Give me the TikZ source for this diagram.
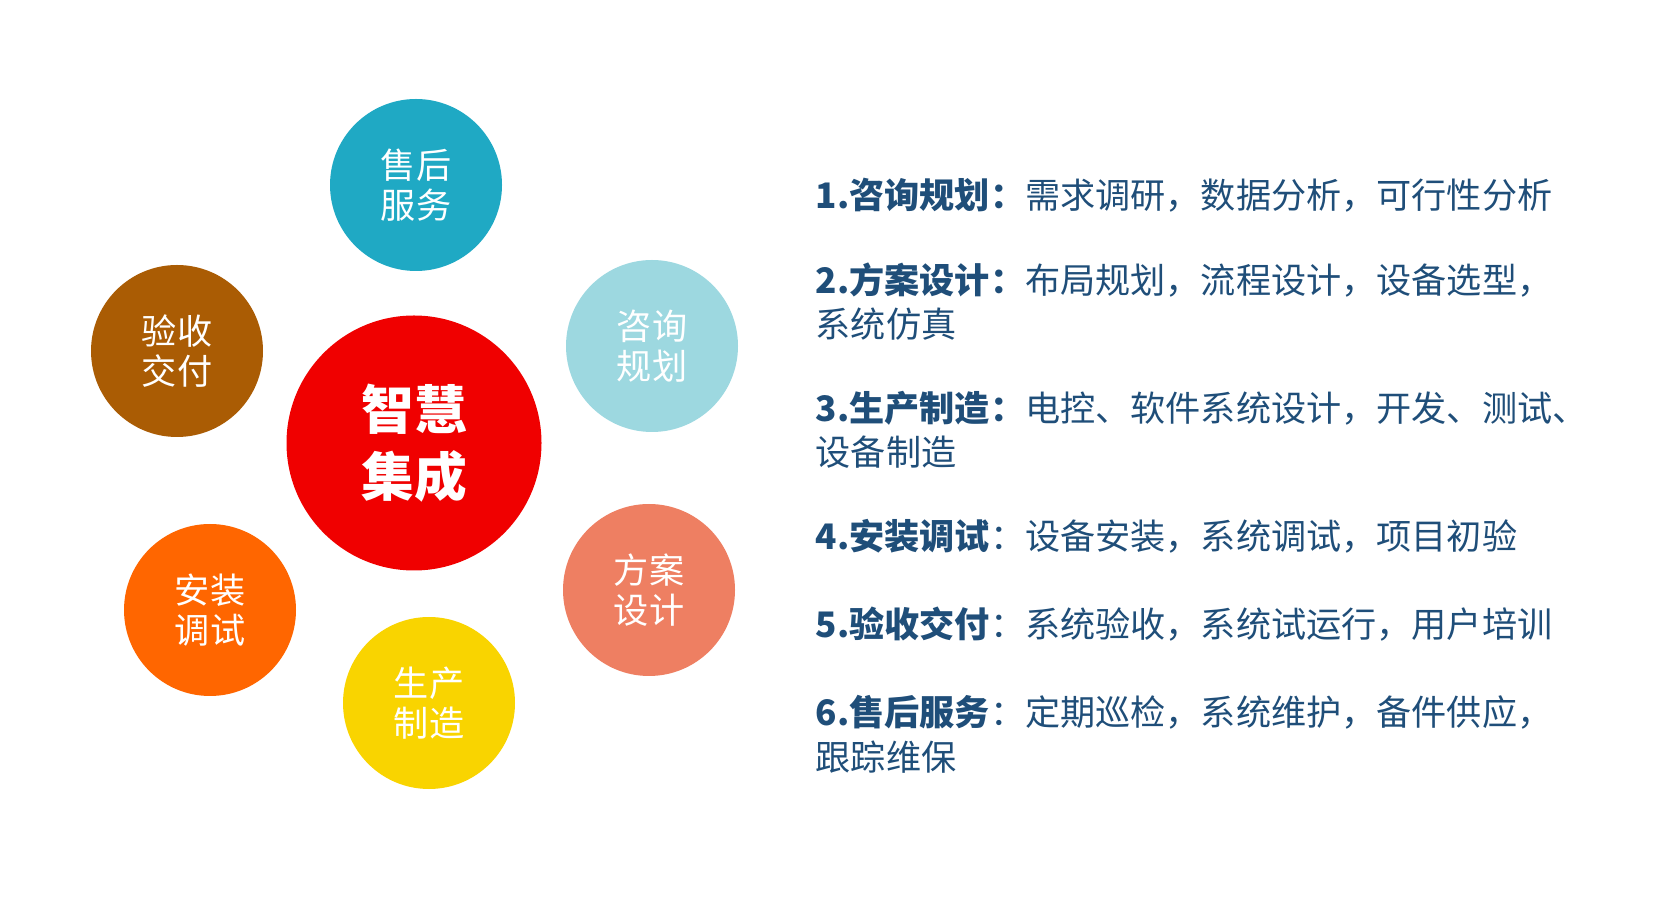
\documentclass[tikz,border=0pt]{standalone}
\usepackage{fontspec}
\setmainfont{Noto Sans CJK SC}
\definecolor{shouhou}{HTML}{1FA9C4}
\definecolor{zixun}{HTML}{9DD8E0}
\definecolor{yanshou}{HTML}{AA5C04}
\definecolor{hubred}{HTML}{F00000}
\definecolor{anzhuang}{HTML}{FF6600}
\definecolor{fangan}{HTML}{EE7F62}
\definecolor{shengchan}{HTML}{F9D400}
\definecolor{itemblue}{HTML}{1F4E79}
\begin{document}
\begin{tikzpicture}[
    stage/.style={circle,minimum size=1.72cm,inner sep=0pt,text=white,align=center,
        font=\fontsize{10}{11.4}\selectfont},
    hub/.style={circle,minimum size=2.55cm,inner sep=0pt,fill=hubred,text=white,align=center,
        font=\fontsize{15}{19}\selectfont\bfseries},
    item/.style={anchor=base west,inner sep=0pt,align=left,text=itemblue,
        font=\fontsize{10}{12.8}\selectfont}]
\useasboundingbox (0,0) rectangle (16.54,9.12);
\node[hub] (zhihui) at (4.14,4.69) {智慧\\集成};
\node[stage,fill=shouhou] (shouhou) at (4.16,7.27) {售后\\服务};
\node[stage,fill=zixun] (zixun) at (6.52,5.66) {咨询\\规划};
\node[stage,fill=yanshou] (yanshou) at (1.77,5.61) {验收\\交付};
\node[stage,fill=anzhuang] (anzhuang) at (2.10,3.02) {安装\\调试};
\node[stage,fill=fangan] (fangan) at (6.49,3.22) {方案\\设计};
\node[stage,fill=shengchan] (shengchan) at (4.29,2.09) {生产\\制造};
\node[item] (item1) at (8.15,7.03) {\textbf{1.咨询规划：}需求调研，数据分析，可行性分析};
\node[item] (item2) at (8.15,5.74) {\textbf{2.方案设计：}布局规划，流程设计，设备选型，\\系统仿真};
\node[item] (item3) at (8.15,4.46) {\textbf{3.生产制造：}电控、软件系统设计，开发、测试、\\设备制造};
\node[item] (item4) at (8.15,3.62) {\textbf{4.安装调试}：设备安装，系统调试，项目初验};
\node[item] (item5) at (8.15,2.74) {\textbf{5.验收交付}：系统验收，系统试运行，用户培训};
\node[item] (item6) at (8.15,1.42) {\textbf{6.售后服务}：定期巡检，系统维护，备件供应，\\跟踪维保};
\end{tikzpicture}
\end{document}
